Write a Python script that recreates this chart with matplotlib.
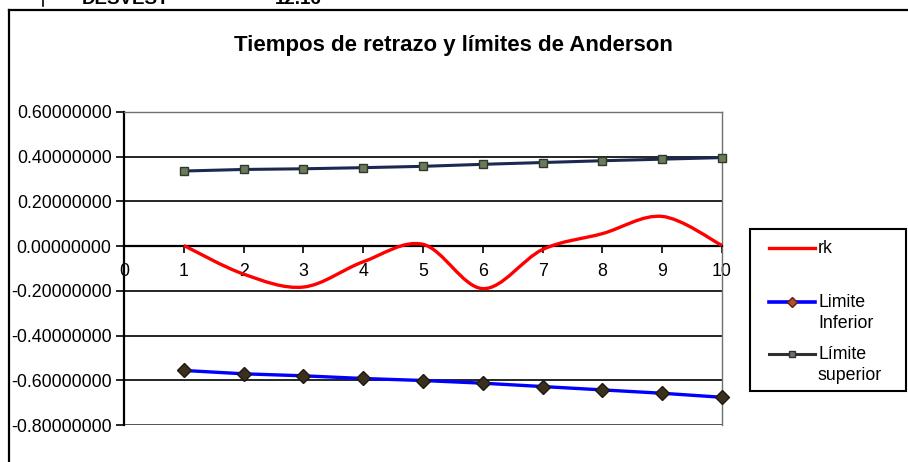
import numpy as np
import matplotlib
matplotlib.use("Agg")
import matplotlib.pyplot as plt
from matplotlib.path import Path
from matplotlib.patches import PathPatch, Rectangle
from matplotlib.lines import Line2D

plt.rcParams['font.family'] = ['Liberation Sans', 'DejaVu Sans']

# lags and values
lags = [1, 2, 3, 4, 5, 6, 7, 8, 9, 10]
rk = [0.003, -0.125, -0.183, -0.070, 0.008, -0.190, -0.015, 0.056, 0.133, 0.003]
lim_inf = [-0.556, -0.571, -0.580, -0.592, -0.601, -0.613, -0.628, -0.643, -0.658, -0.676]
lim_sup = [0.336, 0.343, 0.346, 0.351, 0.357, 0.366, 0.374, 0.382, 0.389, 0.396]
yticks = [0.6, 0.4, 0.2, 0.0, -0.2, -0.4, -0.6, -0.8]
xticks = list(range(0, 11))

title = "Tiempos de retrazo y límites de Anderson"
labels = ["rk", "Limite\nInferior", "Límite\nsuperior"]


def smooth_path(x, y):
    # excel-style smoothed line: bezier segments with catmull-rom tangents
    pts = np.column_stack([x, y]).astype(float)
    n = len(pts)
    verts = [pts[0]]
    codes = [Path.MOVETO]
    for i in range(n - 1):
        p0 = pts[max(i - 1, 0)]
        p1 = pts[i]
        p2 = pts[i + 1]
        p3 = pts[min(i + 2, n - 1)]
        verts += [p1 + (p2 - p0) / 6, p2 - (p3 - p1) / 6, p2]
        codes += [Path.CURVE4] * 3
    return Path(verts, codes)


W, H = 908, 462
fx = lambda px: px / W
fy = lambda py: 1 - py / H

fig = plt.figure(figsize=(W / 100, H / 100), dpi=100)
fig.patch.set_facecolor('white')

# outer chart frame (left + top visible)
fig.add_artist(Line2D([fx(9), fx(9)], [0, fy(10)], color='black', lw=1.6))
fig.add_artist(Line2D([fx(9), 1], [fy(10), fy(10)], color='black', lw=1.6))

# cut-off cells above the chart
fig.text(fx(82), fy(4), "DESVEST", fontsize=13.5, fontweight='bold', va='baseline', ha='left')
fig.text(fx(275), fy(4), "12.16", fontsize=13.5, fontweight='bold', va='baseline', ha='left')
fig.add_artist(Line2D([fx(43), fx(43)], [fy(6), 1], color='black', lw=1.2))

ax = fig.add_axes([fx(124), fy(425), (722 - 124) / W, (425 - 112) / H])
ax.set_xlim(0, 10)
ax.set_ylim(-0.8, 0.6)

ax.set_yticks(yticks)
ax.set_yticklabels(["%.8f" % v for v in yticks])
ax.set_xticks(xticks)
ax.set_xticklabels([str(v) for v in xticks])

ax.yaxis.grid(True, color='black', lw=1.2)
ax.set_axisbelow(True)

ax.spines['bottom'].set_position(('data', 0))
ax.spines['bottom'].set_linewidth(1.6)
ax.spines['left'].set_linewidth(1.6)
ax.spines['top'].set_color('#707070')
ax.spines['right'].set_color('#707070')
ax.spines['top'].set_linewidth(1.0)
ax.spines['right'].set_linewidth(1.0)
ax.axhline(-0.8, color='#606060', lw=1.2)

ax.tick_params(axis='y', direction='out', length=6, width=1.2, labelsize=12.8, pad=3)
ax.tick_params(axis='x', direction='out', length=5, width=1.2, labelsize=12.8, pad=7)

# series
ax.plot(lags, lim_inf, color='#0000ff', lw=2.4, marker='D', markersize=7,
        markerfacecolor='#3a3020', markeredgecolor='#201810', clip_on=False, zorder=3)
ax.plot(lags, lim_sup, color='#1c2850', lw=2.2, marker='s', markersize=5.5,
        markerfacecolor='#6b7a5a', markeredgecolor='#303828', clip_on=False, zorder=3)
ax.add_patch(PathPatch(smooth_path(lags, rk), fill=False, edgecolor='#ff0000',
                       lw=2.4, zorder=4, clip_on=False))

fig.text(fx(453), fy(46), title, fontsize=16, fontweight='bold', ha='center', va='center')

# legend box drawn by hand to match the excel layout
fig.add_artist(Rectangle((fx(750), fy(391)), (906 - 750) / W, (391 - 229) / H,
                         fill=True, facecolor='white', edgecolor='black', lw=1.5,
                         transform=fig.transFigure))
leg_lines = [('#ff0000', 2.4), ('#0000ff', 2.6), ('#303030', 2.2)]
leg_marks = [
    None,
    dict(marker='D', markersize=5, markerfacecolor='#b05030', markeredgecolor='#602010'),
    dict(marker='s', markersize=4.5, markerfacecolor='#707070', markeredgecolor='#303030'),
]
leg_rows = [248, 302, 354]
for lab, (c, lw), mk, ry in zip(labels, leg_lines, leg_marks, leg_rows):
    fig.add_artist(Line2D([fx(769), fx(815)], [fy(ry), fy(ry)], color=c, lw=lw))
    if mk is not None:
        fig.add_artist(Line2D([fx(792)], [fy(ry)], linestyle='none', **mk))
    fig.text(fx(818), fy(ry - 8), lab, fontsize=12.8, ha='left', va='top', linespacing=1.28)

fig.savefig("out.png", dpi=100)
